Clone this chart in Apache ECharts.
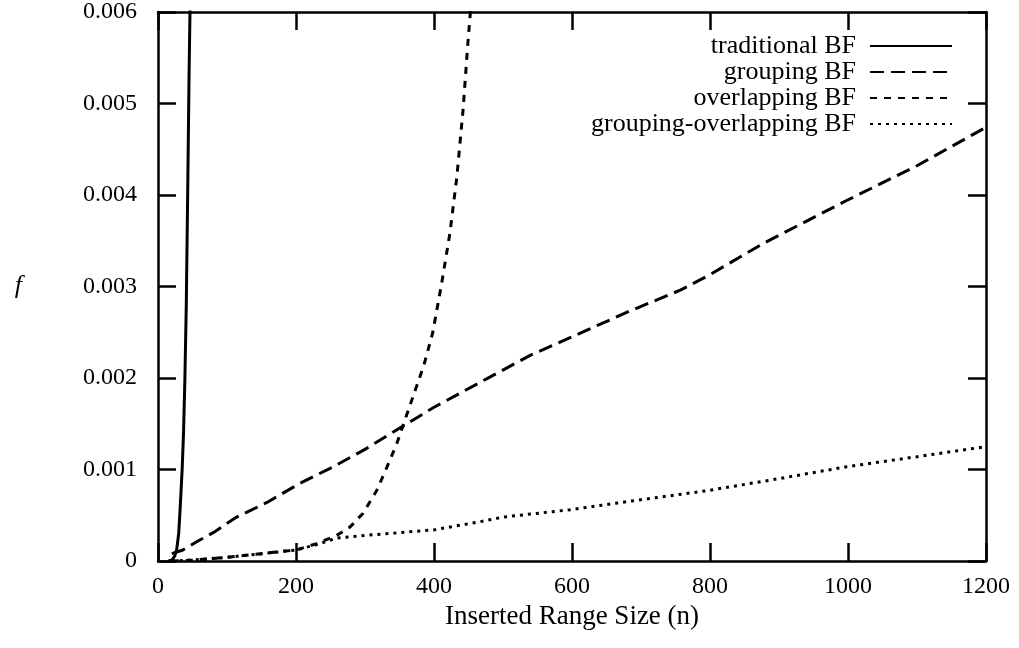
<!DOCTYPE html>
<html>
<head>
<meta charset="utf-8">
<script src="https://cdn.jsdelivr.net/npm/echarts@6/dist/echarts.min.js"></script>
<style>
  html, body { margin: 0; padding: 0; background: #fff; }
  #chart { width: 1019px; height: 648px; }
</style>
</head>
<body>
<div id="chart"></div>
<script>
// values: n (inserted range size) and f per series
const seriesNames = ['traditional BF', 'grouping BF', 'overlapping BF', 'grouping-overlapping BF'];
const xTicks = [0, 200, 400, 600, 800, 1000, 1200];
const yTicks = [0, 0.001, 0.002, 0.003, 0.004, 0.005, 0.006];

const tradN = [15, 20, 24, 27, 30, 32, 35, 37, 39, 41, 43, 45, 47.5];
const tradF = [0, 0.00001, 0.00005, 0.00012, 0.0003, 0.00056, 0.001, 0.0014, 0.002, 0.0028, 0.0040, 0.0053, 0.0066];

const groupN = [20, 36, 56, 80, 114, 158, 206, 254, 300, 341, 400, 481, 540, 612, 680, 757, 800, 877, 998, 1100, 1200];
const groupF = [0.00008, 0.00012, 0.00021, 0.00031, 0.00048, 0.00064, 0.00085, 0.00103, 0.00122, 0.00141, 0.00168, 0.00201, 0.00225, 0.00249, 0.00272, 0.00296, 0.00313, 0.00347, 0.00394, 0.00432, 0.00474];

const overN = [20, 50, 100, 150, 200, 230, 259, 278, 297, 317, 332, 346, 361, 372, 385, 398, 411, 423, 433, 442, 449, 456];
const overF = [0, 0.00001, 0.00004, 0.00008, 0.00012, 0.00019, 0.00028, 0.00037, 0.00052, 0.00077, 0.00103, 0.00128, 0.00161, 0.00185, 0.00213, 0.00249, 0.00303, 0.00358, 0.00419, 0.00492, 0.00565, 0.0063];

const goN = [20, 50, 100, 150, 200, 230, 259, 300, 400, 467, 500, 597, 700, 797, 900, 998, 1100, 1200];
const goF = [0, 0.00001, 0.00004, 0.00008, 0.00012, 0.00018, 0.00025, 0.00028, 0.00034, 0.00043, 0.00048, 0.00056, 0.00067, 0.00077, 0.0009, 0.00103, 0.00114, 0.00125];

const dashes = ['solid', [14, 7], [7, 7], [3, 5]];

function zip(xs, ys) {
    return xs.map((x, i) => [x, ys[i]]);
}

const font = 'Liberation Serif';
const myChart = echarts.init(document.getElementById('chart'));

const axisLine = { show: true, onZero: false, lineStyle: { color: '#000', width: 2.5 } };
const tick = { show: true, inside: true, length: 18, lineStyle: { color: '#000', width: 2.5 } };

function makeLegend(i) {
    return {
        data: [seriesNames[i]],
        orient: 'horizontal',
        align: 'right',
        right: 66,
        top: 33 + i * 26,
        padding: 0,
        itemWidth: 82,
        itemHeight: 14,
        itemGap: 0,
        selectedMode: false,
        itemStyle: { color: 'rgba(0,0,0,0)', borderWidth: 0, opacity: 0 },
        textStyle: { fontFamily: font, fontSize: 26, color: '#000', padding: [0, 9, 0, 0] }
    };
}

myChart.setOption({
    animation: false,
    backgroundColor: '#fff',
    grid: { left: 158, right: 33, top: 11, bottom: 87, containLabel: false },
    legend: [0, 1, 2, 3].map(makeLegend),
    xAxis: [{
        type: 'value',
        min: xTicks[0],
        max: xTicks[xTicks.length - 1],
        interval: xTicks[1] - xTicks[0],
        name: 'Inserted Range Size (n)',
        nameLocation: 'middle',
        nameGap: 40,
        nameTextStyle: { fontFamily: font, fontSize: 27, color: '#000' },
        axisLine: axisLine,
        axisTick: tick,
        splitLine: { show: false },
        axisLabel: { fontFamily: font, fontSize: 24, color: '#000', margin: 14, formatter: v => String(v) }
    }, {
        type: 'value',
        position: 'top',
        min: xTicks[0],
        max: xTicks[xTicks.length - 1],
        interval: xTicks[1] - xTicks[0],
        axisLine: axisLine,
        axisTick: tick,
        splitLine: { show: false },
        axisLabel: { show: false }
    }],
    yAxis: [{
        type: 'value',
        min: yTicks[0],
        max: yTicks[yTicks.length - 1],
        interval: yTicks[1] - yTicks[0],
        name: 'f',
        nameLocation: 'middle',
        nameRotate: 0,
        nameGap: 136,
        nameTextStyle: { fontFamily: font, fontSize: 26, color: '#000', fontStyle: 'italic' },
        axisLine: axisLine,
        axisTick: tick,
        splitLine: { show: false },
        axisLabel: {
            fontFamily: font, fontSize: 24, color: '#000', margin: 21,
            formatter: v => v === 0 ? '0' : v.toFixed(3)
        }
    }, {
        type: 'value',
        position: 'right',
        min: yTicks[0],
        max: yTicks[yTicks.length - 1],
        interval: yTicks[1] - yTicks[0],
        axisLine: axisLine,
        axisTick: tick,
        splitLine: { show: false },
        axisLabel: { show: false }
    }],
    series: [
        [tradN, tradF], [groupN, groupF], [overN, overF], [goN, goF]
    ].map((d, i) => ({
        name: seriesNames[i],
        type: 'line',
        data: zip(d[0], d[1]),
        symbol: 'none',
        clip: true,
        color: '#000',
        lineStyle: { color: '#000', width: 3, type: dashes[i] }
    }))
});
</script>
</body>
</html>
